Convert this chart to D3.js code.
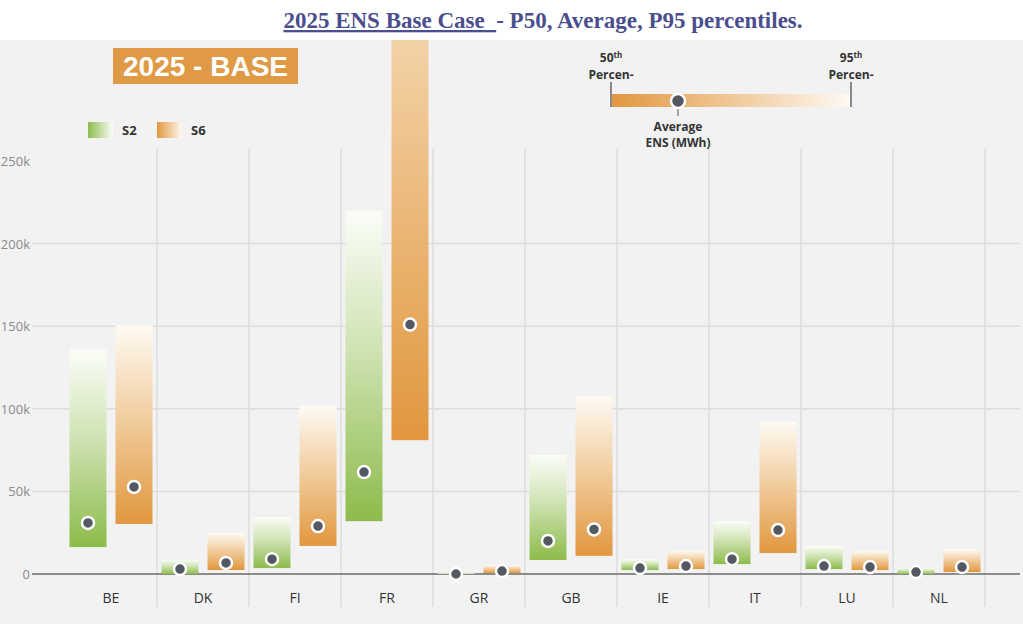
<!DOCTYPE html>
<html><head><meta charset="utf-8">
<script src="https://cdn.jsdelivr.net/npm/d3@7"></script>
<style>body{margin:0;padding:0;background:#fff;}svg{display:block;}</style>
</head><body>
<svg id="chart" width="1023" height="624"></svg>
<script>
const categories = ["BE","DK","FI","FR","GR","GB","IE","IT","LU","NL"];
const seriesNames = ["S2","S6"];
// P50 (bottom), average (dot), P95 (top) in MWh
const s2P50 = [16300, 0, 3600, 32000, 0, 8500, 2400, 6000, 3000, 0];
const s2Avg = [30900, 3000, 9000, 61700, 0, 20000, 3600, 9000, 4800, 1200];
const s2P95 = [136000, 8500, 34500, 220000, 600, 72000, 9000, 32000, 17000, 3600];
const s6P50 = [30300, 2400, 17000, 81000, 600, 11000, 3000, 12700, 2400, 1200];
const s6Avg = [52700, 6700, 29000, 151000, 1800, 27000, 4800, 26600, 4200, 4200];
const s6P95 = [150700, 24800, 101700, 500000, 5400, 107700, 14000, 92000, 14000, 15000];
const yTicks = [0, 50000, 100000, 150000, 200000, 250000];
const yTickLabels = ["0","50k","100k","150k","200k","250k"];

const svg = d3.select("#chart");
const W = 1023, H = 624;

// backgrounds
svg.append("rect").attr("x",0).attr("y",0).attr("width",W).attr("height",H).attr("fill","#ffffff");
svg.append("rect").attr("x",0).attr("y",40).attr("width",W).attr("height",H-40).attr("fill","#f2f2f2");

// title
const title = svg.append("text").attr("x",543).attr("y",28).attr("text-anchor","middle")
  .attr("font-family","'Liberation Serif','Times New Roman',serif").attr("font-weight","bold")
  .attr("font-size",23).attr("fill","#4a4e8e");
title.append("tspan").attr("text-decoration","underline").text("2025 ENS Base Case\u00a0\u00a0");
title.append("tspan").text("- P50, Average, P95 percentiles.");

const defs = svg.append("defs");
const colors = {S2: {dark:"#8dbb4b", mid:"#cfe3b3", light:"#fbfdf8"}, S6: {dark:"#e1973e", mid:"#f2cfa2", light:"#fefaf4"}};
seriesNames.forEach(s => {
  const g = defs.append("linearGradient").attr("id","grad"+s).attr("x1",0).attr("y1",1).attr("x2",0).attr("y2",0);
  g.append("stop").attr("offset","0%").attr("stop-color",colors[s].dark);
  g.append("stop").attr("offset","55%").attr("stop-color",colors[s].mid);
  g.append("stop").attr("offset","100%").attr("stop-color",colors[s].light);
  const h = defs.append("linearGradient").attr("id","hgrad"+s).attr("x1",0).attr("y1",0).attr("x2",1).attr("y2",0);
  h.append("stop").attr("offset","0%").attr("stop-color",colors[s].dark);
  h.append("stop").attr("offset","100%").attr("stop-color",colors[s].light);
});
defs.append("clipPath").attr("id","plotClip").append("rect").attr("x",0).attr("y",40).attr("width",W).attr("height",H-40);

const x = d3.scaleBand().domain(categories).range([65, 985]).paddingInner(0).paddingOuter(0);
const xs = d3.scaleBand().domain(seriesNames).range([0, x.bandwidth()]).paddingInner(0.196).paddingOuter(0.098);
const y = d3.scaleLinear().domain([0, 250000]).range([574, 161]);

// horizontal gridlines
svg.append("g").selectAll("line").data(yTicks.filter(t => t > 0 && t < 250000)).join("line")
  .attr("x1",32).attr("x2",1020).attr("y1",d=>y(d)).attr("y2",d=>y(d))
  .attr("stroke","#dddddd").attr("stroke-width",1.5);

// vertical dividers
svg.append("g").selectAll("line").data(categories).join("line")
  .attr("x1",d=>x(d)+x.bandwidth()).attr("x2",d=>x(d)+x.bandwidth())
  .attr("y1",148).attr("y2",607).attr("stroke","#dcdcdc").attr("stroke-width",1.5);

// y labels
svg.append("g").selectAll("text").data(yTicks).join("text")
  .attr("x",30).attr("y",d=>y(d)+5).attr("text-anchor","end")
  .attr("font-family","'Open Sans',sans-serif").attr("font-size",13).attr("fill","#8a8a8a")
  .text((d,i)=>yTickLabels[i]);

// zero line
svg.append("line").attr("x1",32).attr("x2",1020).attr("y1",y(0)).attr("y2",y(0))
  .attr("stroke","#6a6a6a").attr("stroke-width",1.5);

// data
const data = [];
categories.forEach((c,i) => {
  data.push({c, s:"S2", p50:s2P50[i], avg:s2Avg[i], p95:s2P95[i]});
  data.push({c, s:"S6", p50:s6P50[i], avg:s6Avg[i], p95:s6P95[i]});
});

const plot = svg.append("g").attr("clip-path","url(#plotClip)");
plot.selectAll("rect.bar").data(data).join("rect").attr("class","bar")
  .attr("x",d=>x(d.c)+xs(d.s)).attr("width",xs.bandwidth())
  .attr("y",d=>y(d.p95)).attr("height",d=>Math.max(0.5, y(d.p50)-y(d.p95)))
  .attr("fill",d=>"url(#grad"+d.s+")");
plot.selectAll("circle.dot").data(data).join("circle").attr("class","dot")
  .attr("cx",d=>x(d.c)+xs(d.s)+xs.bandwidth()/2).attr("cy",d=>y(d.avg)).attr("r",6)
  .attr("fill","#545862").attr("stroke","#ffffff").attr("stroke-width",2.5);

// category labels
svg.append("g").selectAll("text").data(categories).join("text")
  .attr("x",d=>x(d)+x.bandwidth()/2).attr("y",603).attr("text-anchor","middle")
  .attr("font-family","'Open Sans',sans-serif").attr("font-size",14).attr("fill","#333")
  .text(d=>d);

// "2025 - BASE" box
svg.append("rect").attr("x",113).attr("y",48).attr("width",185).attr("height",36).attr("fill","#e09a45");
svg.append("text").attr("x",205.5).attr("y",76).attr("text-anchor","middle")
  .attr("font-family","'Liberation Sans',Arial,sans-serif").attr("font-weight","bold")
  .attr("font-size",28).attr("fill","#ffffff").text("2025 - BASE");

// series legend
const legX = [88, 157];
seriesNames.forEach((s,i) => {
  svg.append("rect").attr("x",legX[i]).attr("y",122).attr("width",25).attr("height",16).attr("fill","url(#hgrad"+s+")");
  svg.append("text").attr("x",legX[i]+34).attr("y",135).attr("font-family","'Open Sans',sans-serif")
    .attr("font-weight","bold").attr("font-size",13).attr("fill","#333").text(s);
});

// percentile legend
svg.append("rect").attr("x",611).attr("y",94).attr("width",240).attr("height",13).attr("fill","url(#hgradS6)");
[611, 851].forEach(px => {
  svg.append("line").attr("x1",px).attr("x2",px).attr("y1",82).attr("y2",107).attr("stroke","#8a8a8a").attr("stroke-width",2);
});
svg.append("line").attr("x1",678).attr("x2",678).attr("y1",107).attr("y2",116).attr("stroke","#8a8a8a").attr("stroke-width",1.5);
svg.append("circle").attr("cx",678).attr("cy",101).attr("r",7).attr("fill","#545862").attr("stroke","#fff").attr("stroke-width",2.5);
const lf = "'Open Sans',sans-serif";
[[611,"50"],[851,"95"]].forEach(([px,n]) => {
  const t = svg.append("text").attr("x",px).attr("y",62).attr("text-anchor","middle")
    .attr("font-family",lf).attr("font-weight","bold").attr("font-size",12).attr("fill","#333");
  t.append("tspan").text(n);
  t.append("tspan").attr("font-size",8).attr("dy",-4).text("th");
  svg.append("text").attr("x",px).attr("y",79).attr("text-anchor","middle")
    .attr("font-family",lf).attr("font-weight","bold").attr("font-size",12).attr("fill","#333").text("Percen-");
});
svg.append("text").attr("x",678).attr("y",131).attr("text-anchor","middle")
  .attr("font-family",lf).attr("font-weight","bold").attr("font-size",12).attr("fill","#333").text("Average");
svg.append("text").attr("x",678).attr("y",147).attr("text-anchor","middle")
  .attr("font-family",lf).attr("font-weight","bold").attr("font-size",12).attr("fill","#333").text("ENS (MWh)");
</script>
</body></html>
